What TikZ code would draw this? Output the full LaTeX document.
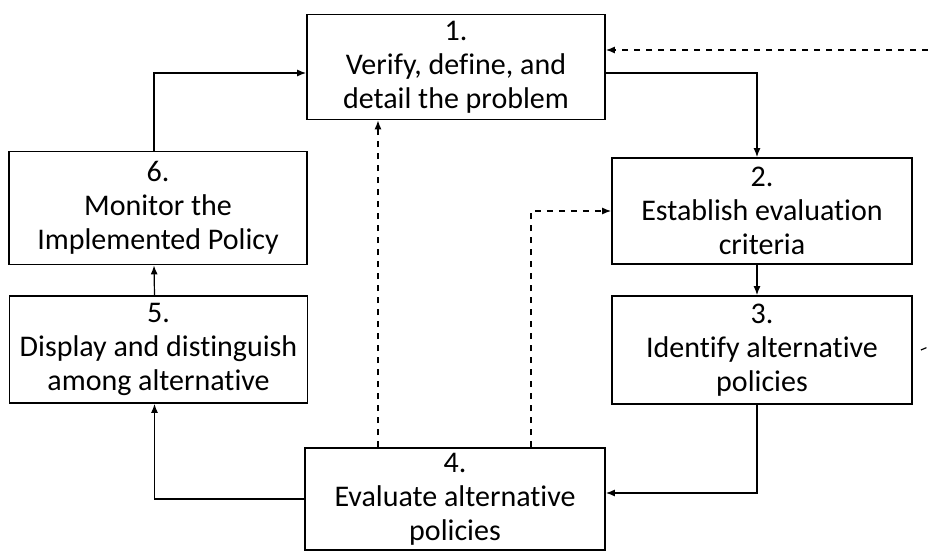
\documentclass[tikz,border=0pt]{standalone}
\usepackage{fontspec}
\setmainfont{Carlito}[Ligatures=NoCommon]
\usetikzlibrary{arrows.meta}

\begin{document}
\begin{tikzpicture}[x=0.5pt,y=-0.5pt,
        box/.style={draw,line width=0.9pt,align=center,inner sep=0pt,minimum width=149pt,font=\fontsize{15}{17}\selectfont},
        flow/.style={line width=0.6pt,-{Latex[length=4.5pt,width=3.5pt]}},
        back/.style={flow,dash pattern=on 3pt off 3pt}]
        \useasboundingbox (0,0) rectangle (928,551);
        \node[box,minimum height=52.5pt] (verify) at (456,67) {1.\\Verify, define, and\\detail the problem};
        \node[box,minimum width=150pt,minimum height=53pt] (criteria) at (762,211) {2.\\Establish evaluation\\criteria};
        \node[box,minimum width=150pt,minimum height=54pt] (identify) at (762,350) {3.\\Identify alternative\\policies};
        \node[box,minimum width=150pt,minimum height=51pt] (evaluate) at (455,499) {4.\\Evaluate alternative\\policies};
        \node[box,minimum height=53.5pt] (display) at (158.5,349.5) {5.\\Display and distinguish\\among alternative};
        \node[box,minimum height=56.5pt] (monitor) at (158,208) {6.\\Monitor the\\Implemented Policy};
        \coordinate (fb1) at (928,50);
        \coordinate (fb3) at (928,347);
        \draw[flow] ([yshift=-3pt]verify.east) -| ([xshift=-2.5pt]criteria.north);
        \draw[flow] ([xshift=-2.5pt]criteria.south) -- ([xshift=-2.5pt]identify.north);
        \draw[flow] ([xshift=-2.5pt]identify.south) |- ([yshift=3pt]evaluate.east);
        \draw[flow] (evaluate.west) -| ([xshift=-2pt]display.south);
        \draw[flow] ([xshift=-2pt]display.north) -- ([xshift=-2pt]monitor.south);
        \draw[flow] ([xshift=-2pt]monitor.north) |- ([yshift=-3pt]verify.west);
        \draw[back] ([xshift=-38.5pt]evaluate.north) -- ([xshift=-38.5pt]evaluate.north |- verify.south);
        \draw[back] ([xshift=38pt]evaluate.north) |- (criteria.west);
        \draw[back] (fb1) -- (verify.east |- fb1);
        \draw[line width=0.6pt,dash pattern=on 3pt off 3pt] ([xshift=4pt]identify.east) -- (fb3);
    \end{tikzpicture}
\end{document}
